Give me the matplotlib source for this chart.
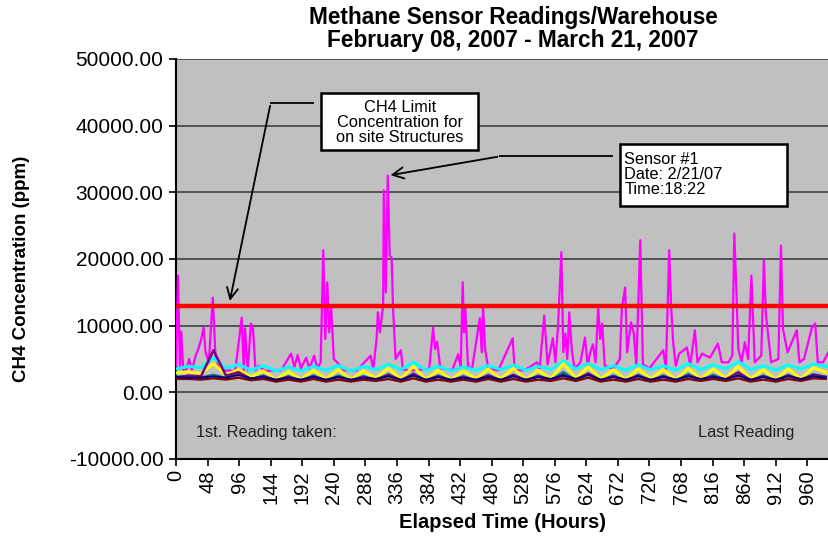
import numpy as np
import matplotlib
matplotlib.use('Agg')
import matplotlib.pyplot as plt
from matplotlib.patches import Rectangle
from matplotlib.ticker import FormatStrFormatter

plt.rcParams['font.family'] = ['Liberation Sans', 'DejaVu Sans']

# Datos: sensor con picos (hora, ppm)
mag_readings = [
    (0, 4000), (3, 17500), (6, 3500), (8, 9100), (11, 3300), (16, 3400), (20, 5000),
    (24, 3300), (30, 5500), (34, 6500), (38, 7800), (42, 9700), (45, 6000), (50, 4500),
    (56, 14200), (60, 5500), (66, 3400), (75, 3300), (90, 3200), (100, 11200), (103, 3300),
    (105, 9600), (109, 3300), (114, 10300), (117, 9600), (121, 3300), (126, 4000), (135, 3200),
    (160, 3300), (175, 5800), (180, 3800), (185, 5600), (190, 3600), (198, 5200), (203, 3500),
    (210, 5500), (215, 3600), (220, 4500), (224, 21300), (227, 8000), (230, 16500), (233, 9000),
    (236, 12700), (240, 5000), (245, 4500), (255, 3300), (275, 3300), (296, 5500), (300, 3500),
    (305, 8000), (307, 12000), (310, 9000), (312, 10500), (315, 13000), (316, 30300), (319, 15000),
    (322, 32500), (325, 20500), (328, 20200), (330, 12700), (334, 5000), (342, 6300), (345, 3400),
    (360, 3300), (385, 3500), (391, 9700), (394, 6500), (397, 7600), (402, 3600), (420, 3300),
    (429, 5700), (433, 3800), (436, 16500), (438, 9000), (440, 12600), (444, 4000), (450, 3400),
    (462, 11100), (465, 6000), (467, 12700), (470, 6500), (475, 3500), (490, 3300), (512, 8100),
    (515, 3300), (530, 3300), (549, 4500), (553, 3500), (560, 11500), (565, 4200), (573, 8100),
    (577, 4500), (581, 10000), (586, 21000), (589, 6000), (592, 8800), (595, 5000), (598, 12000),
    (602, 6300), (606, 3500), (615, 4500), (622, 8200), (626, 4000), (630, 6000), (634, 7200),
    (638, 4500), (642, 12700), (645, 8000), (648, 10300), (652, 4000), (665, 3500), (675, 5000),
    (678, 12600), (683, 15700), (686, 6000), (692, 10500), (696, 9000), (700, 4000), (706, 22800),
    (710, 4200), (720, 3600), (741, 6300), (745, 3500), (750, 21300), (753, 12700), (756, 7500),
    (760, 4000), (765, 5800), (777, 6700), (782, 4000), (789, 9300), (793, 4500), (800, 5800),
    (812, 5200), (824, 7300), (830, 4500), (840, 4500), (846, 5500), (849, 23800), (852, 15700),
    (855, 6600), (860, 4500), (865, 7500), (870, 5000), (875, 17500), (877, 12600), (880, 4500),
    (890, 5500), (894, 19800), (897, 11700), (905, 4500), (916, 5000), (920, 22000), (923, 9500),
    (930, 6000), (944, 9300), (948, 4500), (955, 5000), (967, 9700), (972, 10300), (976, 4500),
    (984, 4500), (992, 6000),
]

# otros sensores (valle / pico alternados)
cyan = [3500, 3900, 3700, 5200, 3600, 4200, 3300, 4000, 3200, 3800,
        3200, 3900, 3300, 4000, 3200, 3900, 3400, 4200, 3400, 4500,
        3300, 3900, 3200, 3800, 3300, 4000, 3400, 4100, 3300, 3900,
        3400, 4700, 3500, 4300, 3400, 4000, 3300, 4100, 3400, 4000,
        3300, 4300, 3400, 4100, 3500, 4600, 3400, 4000, 3300, 4100,
        3500, 4200, 3900]
yellow = [2900, 3100, 2800, 4300, 2600, 3400, 2300, 3200, 1900, 3100,
          1900, 3300, 2000, 3400, 1900, 3200, 2100, 3600, 2000, 3900,
          1900, 3300, 1900, 3200, 2000, 3500, 2000, 3600, 1900, 3300,
          2000, 4300, 2100, 3800, 2000, 3400, 1900, 3500, 2000, 3400,
          1900, 3600, 2000, 3500, 2100, 3900, 2000, 3400, 1900, 3500,
          2000, 3700, 3000]
teal = [2300, 2400, 2200, 2600, 2100, 3000, 1900, 2500, 1700, 2400,
        1700, 2500, 1700, 2500, 1700, 2400, 1800, 2700, 1700, 2800,
        1700, 2500, 1700, 2400, 1700, 2600, 1700, 2600, 1700, 2500,
        1800, 3000, 1800, 2800, 1700, 2500, 1700, 2600, 1700, 2500,
        1700, 2700, 1800, 2600, 1800, 2800, 1700, 2500, 1700, 2600,
        1800, 2700, 2300]
purple = [2200, 2500, 2400, 6300, 2500, 3000, 2000, 2400, 1800, 2300,
          1800, 2400, 1800, 2300, 1800, 2300, 1900, 2600, 1800, 2700,
          1800, 2400, 1800, 2300, 1800, 2500, 1800, 2600, 1800, 2400,
          1900, 2600, 1900, 2800, 1800, 2400, 1800, 2500, 1800, 2400,
          1800, 2500, 1900, 2400, 1900, 3000, 1800, 2400, 1800, 2500,
          1900, 2600, 2300]
maroon = [2000, 2000, 1900, 2100, 1900, 2200, 1800, 2000, 1600, 1900,
          1600, 2000, 1600, 1900, 1600, 1900, 1700, 2000, 1600, 2100,
          1600, 1900, 1600, 1900, 1600, 2000, 1600, 2000, 1600, 1900,
          1700, 2100, 1700, 2200, 1600, 1900, 1600, 2000, 1600, 1900,
          1600, 2000, 1700, 2000, 1700, 2100, 1600, 1900, 1600, 2000,
          1700, 2100, 2000]
navy = [2300, 2200, 2200, 2400, 2200, 2600, 2100, 2300, 1900, 2200,
        1900, 2300, 1900, 2300, 1900, 2200, 2000, 2400, 1900, 2500,
        1900, 2300, 1900, 2200, 1900, 2300, 1900, 2400, 1900, 2300,
        2000, 2500, 2000, 2600, 1900, 2300, 1900, 2400, 1900, 2300,
        1900, 2400, 2000, 2300, 2000, 2500, 1900, 2300, 1900, 2400,
        2000, 2400, 2200]

limit_ppm = 13000
hour_ticks = list(range(0, 961, 48))

fig = plt.figure(figsize=(8.29, 5.36), dpi=100)
ax = fig.add_axes([0.2123, 0.1437, 0.7877, 0.7463])
ax.set_facecolor('#c0c0c0')

mag_h, mag_v = zip(*mag_readings)
ax.plot(mag_h, mag_v, color='#ff00ff', lw=1.6, zorder=3)

series = [(cyan, '#00ffff', 2.2), (yellow, '#ffff00', 2.2), (teal, '#008080', 2.0),
          (purple, '#800080', 1.8), (maroon, '#800000', 1.6), (navy, '#000080', 1.4)]
for vals, col, lw in series:
    t = np.linspace(0, 988, len(vals))
    ax.plot(t, vals, color=col, lw=lw, zorder=4)

ax.axhline(limit_ppm, color='#ff0000', lw=3.2, zorder=6)

ax.set_xlim(0, 993)
ax.set_ylim(-10000, 50000)
ax.set_yticks(range(-10000, 50001, 10000))
ax.yaxis.set_major_formatter(FormatStrFormatter('%.2f'))
ax.set_xticks(hour_ticks)
ax.set_xticklabels([str(h) for h in hour_ticks], rotation=90)
ax.tick_params(axis='y', labelsize=15, length=5, width=1.2, direction='out', pad=4)
ax.tick_params(axis='x', labelsize=14.5, length=5, width=1.2, direction='out', pad=3)
ax.grid(axis='y', color='#404040', lw=1.2)
ax.set_axisbelow(True)
for s in ['top', 'right']:
    ax.spines[s].set_visible(False)
for s in ['left', 'bottom']:
    ax.spines[s].set_linewidth(1.5)

ax.set_ylabel('CH4 Concentration (ppm)', fontsize=13.5, fontweight='bold')
ax.yaxis.set_label_coords(-0.224, 0.475)
ax.set_xlabel('Elapsed Time (Hours)', fontsize=14.5, fontweight='bold')
ax.xaxis.set_label_coords(0.5, -0.136)
fig.text(0.619, 0.988, 'Methane Sensor Readings/Warehouse\nFebruary 08, 2007 - March 21, 2007',
         ha='center', va='top', fontsize=16.3, fontweight='bold', linespacing=1.0)

# Anotaciones
ax.add_patch(Rectangle((220, 36300), 239, 8600, facecolor='white', edgecolor='black',
                       lw=1.8, zorder=8))
ax.text(340, 40500, 'CH4 Limit\nConcentration for\non site Structures', ha='center',
        va='center', fontsize=11.8, zorder=9, linespacing=1.0)
ax.plot([208, 144], [43400, 43400], color='black', lw=1.3, zorder=8)
ax.annotate('', xy=(81, 13300), xytext=(144, 43400),
            arrowprops=dict(arrowstyle='->', color='black', lw=1.3, mutation_scale=20), zorder=8)

ax.add_patch(Rectangle((675, 27900), 254, 9300, facecolor='white', edgecolor='black',
                       lw=1.8, zorder=8))
ax.text(682, 32600, 'Sensor #1\nDate: 2/21/07\nTime:18:22', ha='left', va='center',
        fontsize=11.8, zorder=9, linespacing=1.0)
ax.plot([663, 493], [35400, 35400], color='black', lw=1.3, zorder=8)
ax.annotate('', xy=(322, 32500), xytext=(493, 35400),
            arrowprops=dict(arrowstyle='->', color='black', lw=1.3, mutation_scale=20), zorder=8)

ax.text(30, -6100, '1st. Reading taken:', fontsize=11.8, va='center', color='#222222')
ax.text(794, -6000, 'Last Reading', fontsize=11.8, va='center', color='#222222')

fig.savefig('out.png', dpi=100)
